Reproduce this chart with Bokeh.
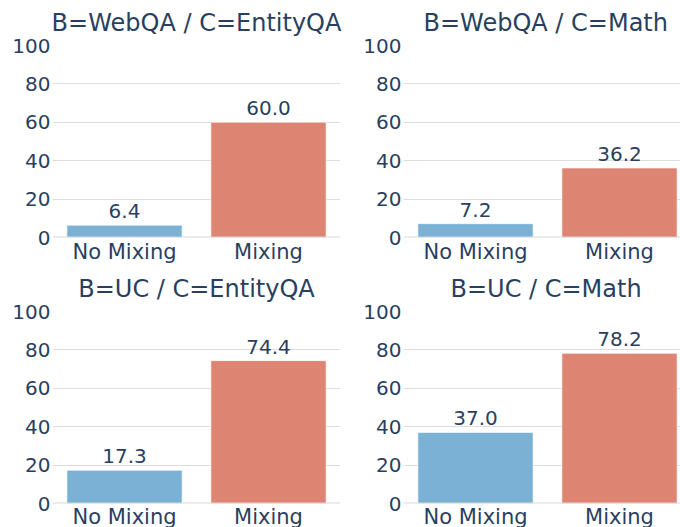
from bokeh.plotting import figure
from bokeh.models import ColumnDataSource, Range1d, Span, Title, FixedTicker
from bokeh.layouts import column, row
from bokeh.embed import file_html
from bokeh.resources import INLINE
from bokeh.core.properties import value

# ---- data ----
titles = ["B=WebQA / C=EntityQA", "B=WebQA / C=Math", "B=UC / C=EntityQA", "B=UC / C=Math"]
categories = ["No Mixing", "Mixing"]
no_mixing = [6.4, 7.2, 17.3, 37.0]
mixing = [60.0, 36.2, 74.4, 78.2]
y_ticks = [0, 20, 40, 60, 80, 100]

# ---- style ----
FONT = "DejaVu Sans"
TXT = "#2a3f5f"
BAR_COLORS = ["#7ab1d4", "#dd8572"]
GRID = "#dddddd"
UNIT_PX = 144  # pixels per category slot


def make(i, left_border, right_border, frame_w, top_border, bottom_border,
         title_align, title_offset, title_standoff, xlab_standoff):
    p = figure(frame_width=frame_w, frame_height=192,
               min_border_left=left_border, min_border_right=right_border,
               min_border_top=top_border, min_border_bottom=bottom_border,
               x_range=Range1d(0, frame_w / UNIT_PX), y_range=Range1d(0, 100),
               output_backend="svg", toolbar_location=None, tools="")
    p.title = Title(text=titles[i], align=title_align, offset=title_offset,
                    vertical_align="top",
                    text_font=FONT, text_font_size="24px", text_font_style="normal",
                    text_color=TXT, standoff=title_standoff)
    p.outline_line_color = None
    p.background_fill_color = "white"
    p.border_fill_color = "white"

    xs = [k + 0.5 for k in range(len(categories))]
    vals = [no_mixing[i], mixing[i]]
    src = ColumnDataSource(dict(x=xs, top=vals, color=BAR_COLORS,
                                lab=[f"{v:.1f}" for v in vals]))

    p.vbar(x="x", top="top", width=0.8, fill_color="color", line_color="white",
           line_alpha=0.6, line_width=1, source=src)
    p.text(x="x", y="top", text="lab", text_align="center", text_baseline="alphabetic",
           y_offset=-14, text_font=value(FONT), text_font_size="20px", text_color=TXT,
           source=src)

    p.add_layout(Span(location=0, dimension="width", line_color="#d9d9d9", line_width=2))

    # x axis: category names at slot centres
    p.xaxis.ticker = FixedTicker(ticks=xs)
    p.xaxis.major_label_overrides = {x: c for x, c in zip(xs, categories)}
    p.xaxis.axis_line_color = None
    p.xaxis.major_tick_line_color = None
    p.xaxis.minor_tick_line_color = None
    p.xaxis.major_tick_out = 0
    p.xaxis.major_tick_in = 0
    p.xaxis.major_label_standoff = xlab_standoff
    p.xaxis.major_label_text_font = FONT
    p.xaxis.major_label_text_font_size = "21px"
    p.xaxis.major_label_text_color = TXT
    p.xgrid.visible = False

    p.yaxis.ticker = y_ticks
    p.yaxis.axis_line_color = None
    p.yaxis.major_tick_line_color = None
    p.yaxis.minor_tick_line_color = None
    p.yaxis.major_tick_out = 0
    p.yaxis.major_tick_in = 0
    p.yaxis.major_label_standoff = 2
    p.yaxis.major_label_text_font = FONT
    p.yaxis.major_label_text_font_size = "20px"
    p.yaxis.major_label_text_color = TXT
    p.ygrid.grid_line_color = GRID
    p.ygrid.grid_line_width = 1
    return p


f1 = make(0, 52, 4, 288, 45, 27, "center", 0, 14, 2)
f2 = make(1, 59, 0, 277, 45, 27, "left", 20, 14, 2)
f3 = make(2, 52, 4, 288, 45, 26, "center", 0, 14, 1)
f4 = make(3, 59, 0, 277, 45, 26, "left", 47, 14, 1)

layout = column(row(f1, f2), row(f3, f4))
open("out.html", "w").write(file_html(layout, INLINE))
